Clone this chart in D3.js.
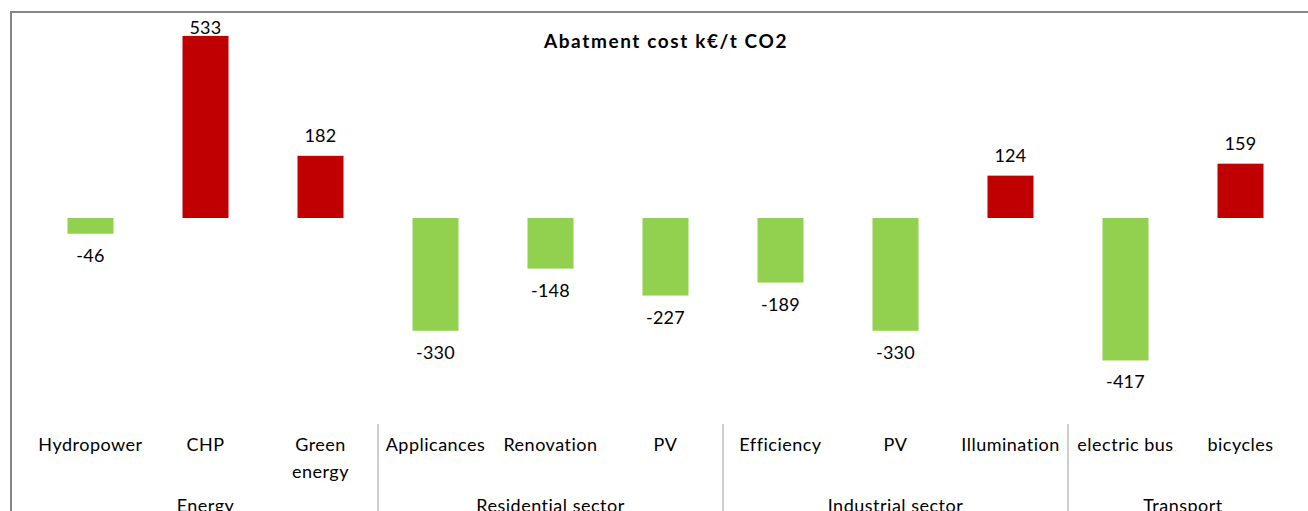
<!DOCTYPE html>
<html>
<head>
<meta charset="utf-8">
<script src="https://cdn.jsdelivr.net/npm/d3@7"></script>
<style>
    body { margin: 0; background: #fff; }
    text { font-family: Lato, "Open Sans", sans-serif; fill: #000; }
</style>
</head>
<body>
<svg width="1308" height="511"></svg>
<script>
// categories along the x axis (two lines where Excel wrapped them)
var categories = [
    ["Hydropower"], ["CHP"], ["Green", "energy"],
    ["Applicances"], ["Renovation"], ["PV"],
    ["Efficiency"], ["PV"], ["Illumination"],
    ["electric bus"], ["bicycles"]
];
var values = [-46, 533, 182, -330, -148, -227, -189, -330, 124, -417, 159];
var groups = ["Energy", "Residential sector", "Industrial sector", "Transport"];
var groupSizes = [3, 3, 3, 2];
var title = "Abatment cost k\u20AC/t CO2";

window.addEventListener("DOMContentLoaded", function () {
    drawChart();
});

function drawChart() {
    var svg = d3.select("svg");

    // chart frame (runs off the right and bottom of the picture)
    svg.append("rect")
        .attr("x", 11).attr("y", 12)
        .attr("width", 1320).attr("height", 520)
        .attr("fill", "none")
        .attr("stroke", "#868686")
        .attr("stroke-width", 2);

    var x = d3.scaleBand()
        .domain(d3.range(categories.length))
        .range([33, 1298]);

    var y = d3.scaleLinear()
        .domain([-600, 600])
        .range([423, 13]);

    var barW = x.bandwidth() * 0.4;

    // bars
    svg.selectAll(".bar")
        .data(values)
        .enter()
        .append("rect")
        .attr("class", "bar")
        .attr("x", function (d, i) { return x(i) + (x.bandwidth() - barW) / 2; })
        .attr("y", function (d) { return y(Math.max(d, 0)); })
        .attr("width", barW)
        .attr("height", function (d) { return Math.abs(y(d) - y(0)); })
        .attr("fill", function (d) { return d < 0 ? "#92D050" : "#C00000"; });

    // value labels
    svg.selectAll(".val")
        .data(values)
        .enter()
        .append("text")
        .attr("class", "val")
        .attr("x", function (d, i) { return x(i) + x.bandwidth() / 2; })
        .attr("y", function (d) {
            return d < 0 ? y(d) + 28 : Math.max(y(d) - 14, 34);
        })
        .attr("text-anchor", "middle")
        .style("font-size", "18px")
        .style("letter-spacing", "0.3px")
        .text(function (d) { return d; });

    // title
    svg.append("text")
        .attr("x", 666).attr("y", 48)
        .attr("text-anchor", "middle")
        .style("font-size", "19px")
        .style("font-weight", "bold")
        .style("letter-spacing", "1.6px")
        .text(title);

    // category labels
    var cat = svg.selectAll(".cat")
        .data(categories)
        .enter()
        .append("text")
        .attr("class", "cat")
        .attr("text-anchor", "middle")
        .style("font-size", "18px")
        .style("letter-spacing", "0.5px");
    cat.selectAll("tspan")
        .data(function (d, i) { return d.map(function (s) { return {s: s, i: i}; }); })
        .enter()
        .append("tspan")
        .attr("x", function (d) { return x(d.i) + x.bandwidth() / 2; })
        .attr("y", function (d, j) { return 451 + j * 27; })
        .text(function (d) { return d.s; });

    // group labels and separators
    var start = 0;
    groups.forEach(function (g, k) {
        var first = start, last = start + groupSizes[k] - 1;
        var cx = (x(first) + x(last) + x.bandwidth()) / 2;
        svg.append("text")
            .attr("x", cx).attr("y", 512)
            .attr("text-anchor", "middle")
            .style("font-size", "18px")
            .style("letter-spacing", "0.5px")
            .text(g);
        if (k > 0) {
            svg.append("line")
                .attr("x1", x(first)).attr("x2", x(first))
                .attr("y1", 424).attr("y2", 511)
                .attr("stroke", "#BFBFBF")
                .attr("stroke-width", 1.5);
        }
        start += groupSizes[k];
    });
}
</script>
</body>
</html>
